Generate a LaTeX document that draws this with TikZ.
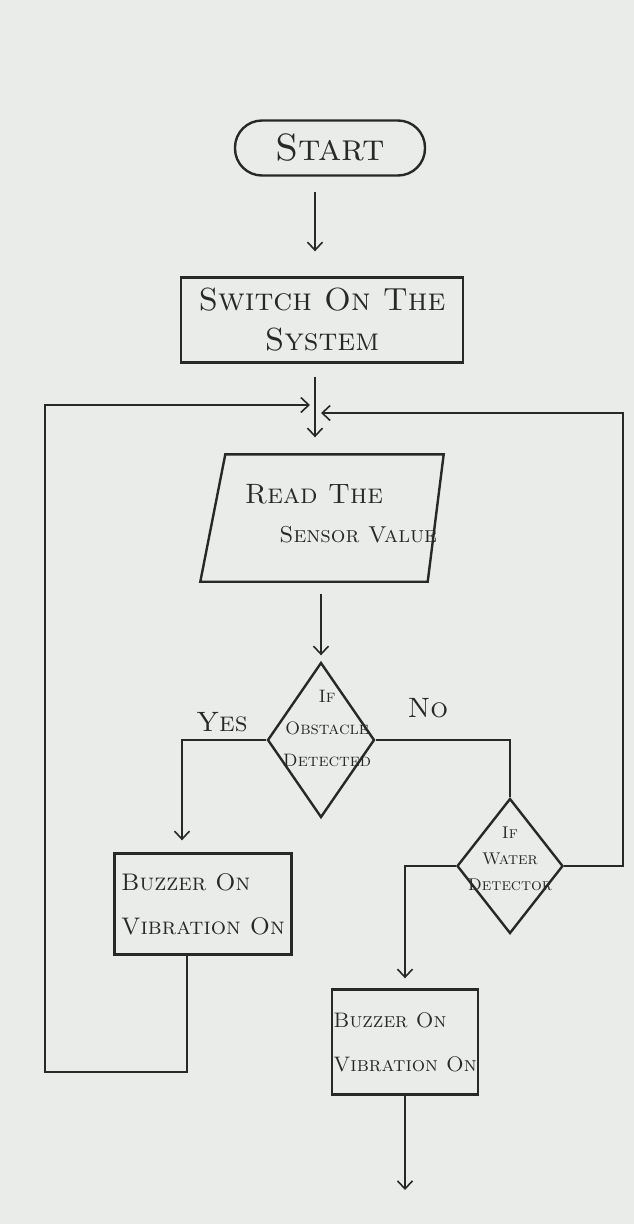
\documentclass[tikz,border=0pt]{standalone}
\usetikzlibrary{shapes.geometric,arrows.meta}
\definecolor{papier}{RGB}{234,236,233}
\definecolor{stift}{RGB}{40,40,40}
\tikzset{
  kasten/.style={draw=stift, line width=2.4pt, inner sep=0pt, text=stift},
  pfeil/.style={draw=stift, line width=1.6pt, -{Straight Barb[length=8pt,width=15pt]}},
  linie/.style={draw=stift, line width=1.6pt},
  schrift/.style 2 args={text=stift, font=\fontsize{#1}{#2}\selectfont}
}
\begin{document}
\begin{tikzpicture}[x=1pt,y=-1pt]
  % Papier
  \fill[papier] (0,0) rectangle (634,1224);
  \useasboundingbox (0,0) rectangle (634,1224);
  \coordinate (achse) at (315,0);
  \coordinate (einL) at (310,405);
  \coordinate (einR) at (321,413);
  \coordinate (eckeL) at (45,1072);
  \coordinate (eckeR) at (623,413);
  \coordinate (ende) at (408,1190);
  % Start
  \node[kasten, rounded corners=27pt, minimum width=190pt, minimum height=55pt,
        schrift={38}{44}] (start) at (330,148) {\textsc{Start}};
  % System einschalten
  \node[kasten, minimum width=282pt, minimum height=85pt, align=center,
        schrift={32}{40}] (switch) at (322,320)
        {\textsc{Switch On The}\\\textsc{System}};
  % Sensor lesen
  \node[inner sep=0pt, minimum width=219pt, minimum height=127pt,
        label={[schrift={23}{39}, align=left, xshift=19pt, yshift=4pt]center:%
          {\fontsize{28}{39}\selectfont\textsc{Read The}}\\\hspace*{1.5em}\textsc{Sensor Value}}]
        (read) at (322,518) {};
  \draw[kasten] ([xshift=-12pt]read.south west) -- ([xshift=13pt]read.north west)
    -- ([xshift=12pt]read.north east) -- ([xshift=-4pt]read.south east) -- cycle;
  % Hindernis?
  \node[kasten, diamond, minimum width=107pt, minimum height=155pt,
        label={[schrift={18}{32}, align=center, xshift=6pt, yshift=12pt]center:%
          \textsc{If}\\\textsc{Obstacle}\\\textsc{Detected}}]
        (obst) at (321,740) {};
  % Wasser?
  \node[kasten, diamond, minimum width=106pt, minimum height=135pt,
        label={[schrift={17}{26}, align=center, yshift=7pt]center:%
          \textsc{If}\\\textsc{Water}\\\textsc{Detector}}]
        (water) at (510,866) {};
  % Summer links
  \node[kasten, minimum width=177pt, minimum height=101pt, align=left,
        schrift={24}{44}] (buzzA) at (203,904)
        {\textsc{Buzzer On}\\\textsc{Vibration On}};
  % Summer rechts
  \node[kasten, minimum width=146pt, minimum height=105pt, align=left,
        schrift={21}{44}] (buzzB) at (405,1042)
        {\textsc{Buzzer On}\\\textsc{Vibration On}};
  % Ja / Nein
  \node[schrift={28}{28}] (ja) at (222,722) {\textsc{Yes}};
  \node[schrift={28}{28}] (nein) at (428,708) {\textsc{No}};
  % Pfeile
  \draw[pfeil, shorten <=15pt, shorten >=25pt] (start.south -| achse) -- (switch.north -| achse);
  \draw[pfeil, shorten <=13pt, shorten >=17pt] (switch.south -| achse) -- (read.north -| achse);
  \draw[pfeil, shorten <=12pt, shorten >=6pt] (read.south -| obst.north) -- (obst.north);
  \draw[pfeil, shorten >=12pt] (obst.west) -| ([xshift=-21pt]buzzA.north);
  \draw[linie] (obst.east) -| (water.north);
  \draw[pfeil, shorten >=10pt] (water.west) -| (buzzB.north);
  \draw[pfeil] (water.east) -| (eckeR) -- (einR);
  \draw[pfeil] ([xshift=-16pt]buzzA.south) |- (eckeL) |- (einL);
  \draw[pfeil] (buzzB.south) -- (buzzB.south |- ende);
\end{tikzpicture}
\end{document}
